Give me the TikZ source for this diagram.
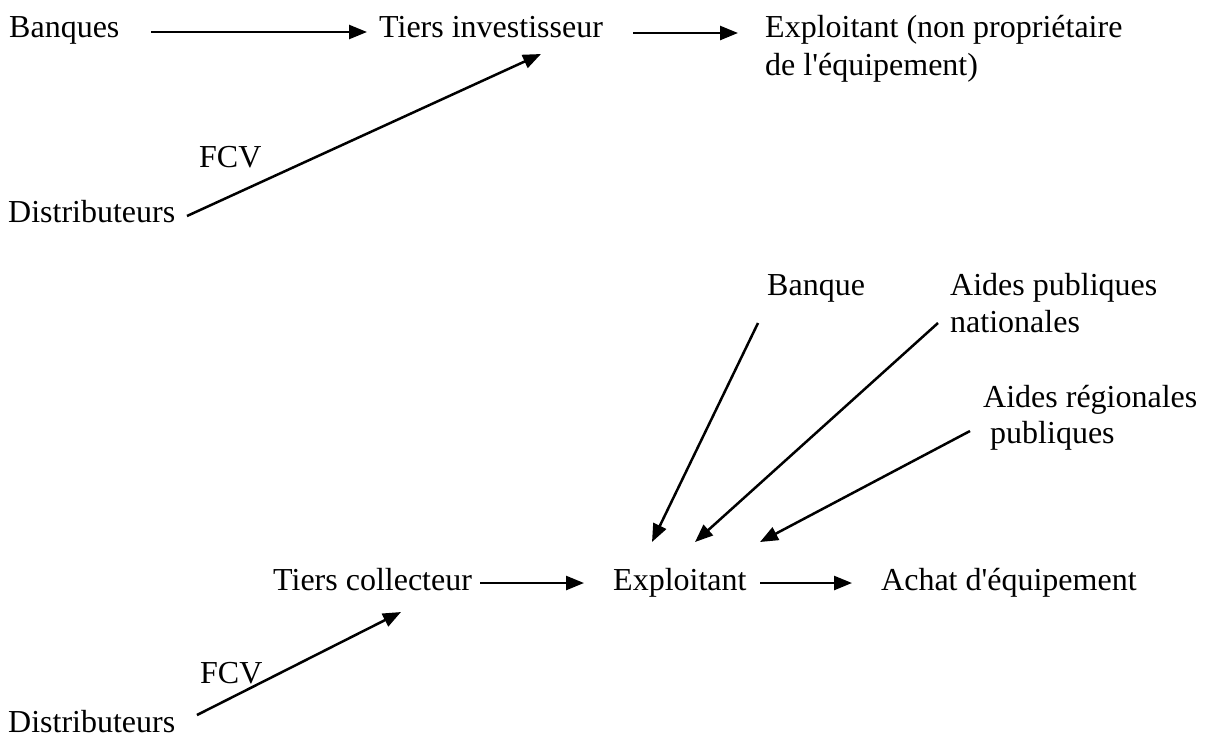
\documentclass[tikz,border=0pt]{standalone}
\usepackage{fontspec}
\setmainfont{Liberation Serif}
\usetikzlibrary{arrows.meta}
\newcommand\lbfont{\fontsize{32}{37}\selectfont}
\tikzset{
  lbl/.style={anchor=base west, inner sep=0pt, font=\lbfont},
  arr/.style={line width=2.5pt, -{Triangle[length=18pt,width=14pt]}}
}
\begin{document}
\begin{tikzpicture}[x=1pt,y=-1pt]
\useasboundingbox (0,0) rectangle (1209,740);
% top diagram
\node[lbl] (banques) at (9,37) {Banques};
\node[lbl] (tiers) at (379,37) {Tiers investisseur};
\node[lbl] (expla) at (765,37) {Exploitant (non propriétaire};
\node[lbl] (explb) at (765,75) {de l\textquotesingle équipement)};
\node[lbl] (fcva) at (199,167) {FCV};
\node[lbl] (dista) at (8,222) {Distributeurs};
\draw[arr] ([shift={(142,-5)}]banques.base west) -- ([shift={(-12,-5)}]tiers.base west);
\draw[arr] ([shift={(254,-4)}]tiers.base west) -- ([shift={(-27,-4)}]expla.base west);
\draw[arr] ([shift={(179,-6)}]dista.base west) -- ([shift={(162,17)}]tiers.base west);
% bottom diagram
\node[lbl] (banque) at (767,295) {Banque};
\node[lbl] (anata) at (950,295) {Aides publiques};
\node[lbl] (anatb) at (950,332) {nationales};
\node[lbl] (arega) at (983,407) {Aides régionales};
\node[lbl] (aregb) at (990,443) {publiques};
\node[lbl] (tc) at (273,590) {Tiers collecteur};
\node[lbl] (expl) at (613,590) {Exploitant};
\node[lbl] (achat) at (881,590) {Achat d\textquotesingle équipement};
\node[lbl] (fcvb) at (200,683) {FCV};
\node[lbl] (distb) at (8,732) {Distributeurs};
\draw[arr] ([shift={(-9,28)}]banque.base west) -- ([shift={(39,-48)}]expl.base west);
\draw[arr] ([shift={(-12,28)}]anata.base west) -- ([shift={(82,-48)}]expl.base west);
\draw[arr] ([shift={(-13,24)}]arega.base west) -- ([shift={(147,-48)}]expl.base west);
\draw[arr] ([shift={(207,-7)}]tc.base west) -- ([shift={(-29,-7)}]expl.base west);
\draw[arr] ([shift={(147,-7)}]expl.base west) -- ([shift={(-29,-7)}]achat.base west);
\draw[arr] ([shift={(189,-17)}]distb.base west) -- ([shift={(128,22)}]tc.base west);
\end{tikzpicture}
\end{document}
